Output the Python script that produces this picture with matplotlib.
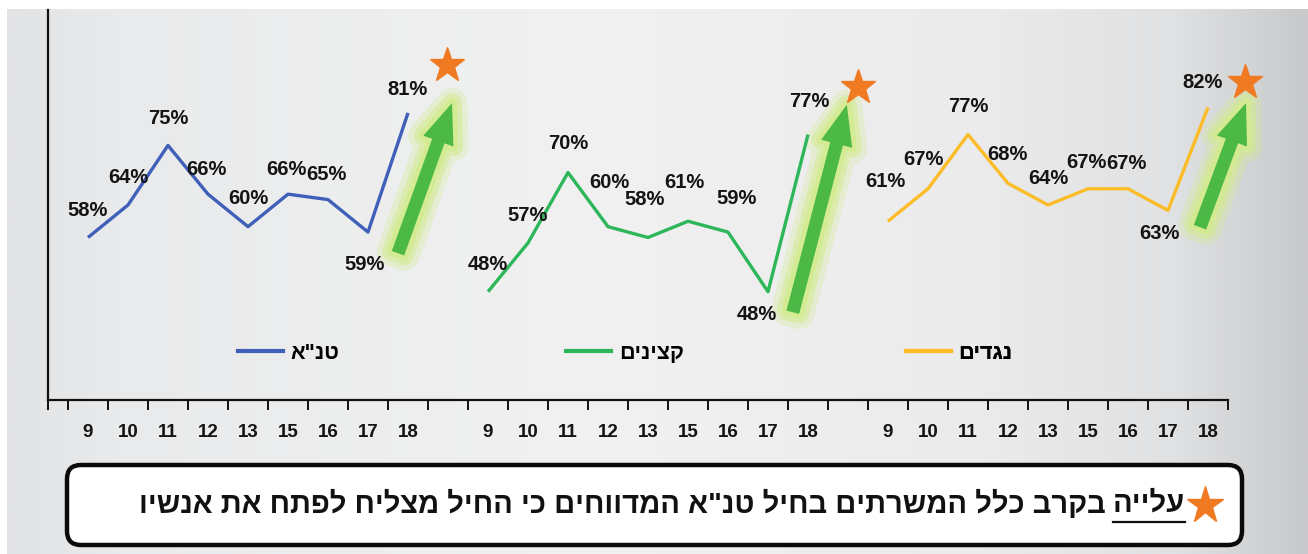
import matplotlib
matplotlib.use('Agg')
import matplotlib.pyplot as plt
import matplotlib.patheffects as pe
from matplotlib.patches import FancyBboxPatch
from matplotlib.lines import Line2D
from matplotlib.colors import LinearSegmentedColormap
import numpy as np

# ---- data ----
months = ['9', '10', '11', '12', '13', '15', '16', '17', '18']
series_names = ['טנ"א', 'קצינים', 'נגדים']
tana = [58, 64, 75, 66, 60, 66, 65, 59, 81]
officers = [48, 57, 70, 60, 58, 61, 59, 48, 77]
ncos = [61, 67, 77, 68, 64, 67, 67, 63, 82]
note_first = 'עלייה'
note_rest = 'בקרב כלל המשרתים בחיל טנ"א המדווחים כי החיל מצליח לפתח את אנשיו'

# ---- style ----
colors = ['#3f5fb8', '#2db65a', '#fbbc28']
star_color = '#f07a22'
arrow_green = '#4cb947'
halo = '#d3eb90'
# label offsets (pixels) from each point
offsets = [
    [(0, 27), (0, 28), (0, 27), (-2, 25), (0, 28), (-2, 25), (-2, 25), (-3, -32), (-1, 23)],
    [(0, 27), (0, 27), (0, 29), (1, 44), (-3, 38), (-4, 39), (9, 34), (-11, -23), (1, 33)],
    [(-3, 40), (-5, 29), (0, 28), (-1, 29), (0, 27), (-2, 26), (-2, 25), (-9, -23), (-5, 25)],
]
num_font = ['Liberation Sans Narrow', 'Liberation Sans', 'DejaVu Sans']
heb_font = ['Liberation Sans Narrow', 'Liberation Sans', 'DejaVu Sans']


def rtl(s):
    # matplotlib draws left to right; Hebrew needs reversing
    return s[::-1]


W, H = 1308, 554
fig = plt.figure(figsize=(W / 100, H / 100), dpi=100)
fig.patch.set_facecolor('white')

# background gradient
bg = fig.add_axes([7 / W, 0, 1 - 7 / W, 1 - 9 / H], zorder=-10)
cmap = LinearSegmentedColormap.from_list('bg', [
    (0.0, '#e2e3e5'), (0.08, '#e9eaeb'), (0.45, '#f1f1f1'),
    (0.75, '#ebebec'), (0.9, '#e0e1e2'), (1.0, '#c8c9cb')])
grad = np.linspace(0, 1, 512)[None, :]
bg.imshow(grad, aspect='auto', cmap=cmap, extent=[0, 1, 0, 1])
bg.axis('off')

# main axes
ax = fig.add_axes([48 / W, 1 - 400 / H, 1180 / W, 390 / H])
ax.set_facecolor('none')
ax.set_xlim(-1, 28.5)
ax.set_ylim(28, 100)

all_series = [tana, officers, ncos]
handles = []
for g, (vals, col) in enumerate(zip(all_series, colors)):
    xs = np.arange(len(months)) + g * (len(months) + 1)
    ln, = ax.plot(xs, vals, color=col, lw=2.4, solid_joinstyle='round',
                  solid_capstyle='butt', zorder=3)
    handles.append(ln)
    for x, v, (dx, dy) in zip(xs, vals, offsets[g]):
        ax.annotate(f'{v}%', (x, v), xytext=(dx, dy), textcoords='offset pixels',
                    ha='center', va='center', fontsize=14.5, fontweight='bold',
                    family=num_font, color='#141414', zorder=4)

# green arrows with glow, and stars
arrow_tail = [(7.75, 55.1), (17.62, 44.2), (27.8, 59.9)]
arrow_tip = [(9.1, 82.8), (18.97, 82.5), (28.95, 82.8)]
star_pos = [(8.97, 89.8), (19.25, 85.8), (28.92, 86.7)]
glow = [pe.Stroke(linewidth=22, foreground=halo, alpha=0.3, joinstyle='round', capstyle='round'),
        pe.Stroke(linewidth=14, foreground=halo, alpha=0.55, joinstyle='round', capstyle='round'),
        pe.Stroke(linewidth=7, foreground=halo, alpha=0.9, joinstyle='round', capstyle='round'),
        pe.Normal()]
for tail, tip, st in zip(arrow_tail, arrow_tip, star_pos):
    ax.annotate('', xy=tip, xytext=tail,
                arrowprops=dict(arrowstyle='simple,head_length=1.45,head_width=1.15,tail_width=0.47',
                                mutation_scale=20, fc=arrow_green, ec='none',
                                shrinkA=0, shrinkB=0, path_effects=glow),
                annotation_clip=False, zorder=2)
    ax.plot([st[0]], [st[1]], marker='*', ms=26, color=star_color, ls='none',
            clip_on=False, zorder=5)

# axes styling
for s in ['top', 'right']:
    ax.spines[s].set_visible(False)
for s in ['left', 'bottom']:
    ax.spines[s].set_linewidth(1.6)
    ax.spines[s].set_color('#111111')
ax.set_yticks([])
bounds = np.concatenate([[-1], np.arange(-0.5, 29, 1.0)])
ax.set_xticks(bounds)
ax.set_xticklabels([])
ax.tick_params(axis='x', which='major', direction='out', length=7, width=1.4, color='#111111')
centers = np.concatenate([np.arange(9) + g * 10 for g in range(3)])
ax.set_xticks(centers, minor=True)
ax.set_xticklabels(months * 3, minor=True)
ax.tick_params(axis='x', which='minor', length=0, pad=17)
for t in ax.get_xticklabels(minor=True):
    t.set_fontfamily(num_font)
    t.set_fontweight('bold')
    t.set_fontsize(13.5)
    t.set_color('#141414')

# legends, one under each series
leg_x = [0.161, 0.439, 0.727]
for h, name, lx in zip(handles, series_names, leg_x):
    lg = ax.legend([Line2D([], [], color=h.get_color(), lw=3)], [rtl(name)],
                   loc='center left', bbox_to_anchor=(lx, 0.12), frameon=False,
                   handlelength=2.1, handletextpad=0.35, borderpad=0, borderaxespad=0,
                   prop={'family': heb_font, 'weight': 'bold', 'size': 15.5})
    ax.add_artist(lg)

# bottom note box (pixel coordinates)
ov = fig.add_axes([0, 0, 1, 1], zorder=10)
ov.set_xlim(0, W)
ov.set_ylim(H, 0)
ov.axis('off')
box = FancyBboxPatch((67, 465), 1175, 80, boxstyle='round,pad=0,rounding_size=14',
                     fc='white', ec='#0a0a0a', lw=3.2)
ov.add_patch(box)
ov.plot([1205], [505], marker='*', ms=28, color=star_color, ls='none')

tprops = dict(family=heb_font, fontsize=21, fontweight='bold', color='#111111', va='center')
t1 = ov.text(1185, 504, rtl(note_first), ha='right', **tprops)
fig.canvas.draw()
r = fig.canvas.get_renderer()
bb = t1.get_window_extent(r)
inv = ov.transData.inverted()
(x0, _), (x1, _) = inv.transform([[bb.x0, bb.y0], [bb.x1, bb.y0]])
ov.plot([x0, x1], [522, 522], color='#111111', lw=1.6)
ov.text(x0 - 7, 504, rtl(note_rest), ha='right', **tprops)

fig.savefig('out.png', dpi=100)
